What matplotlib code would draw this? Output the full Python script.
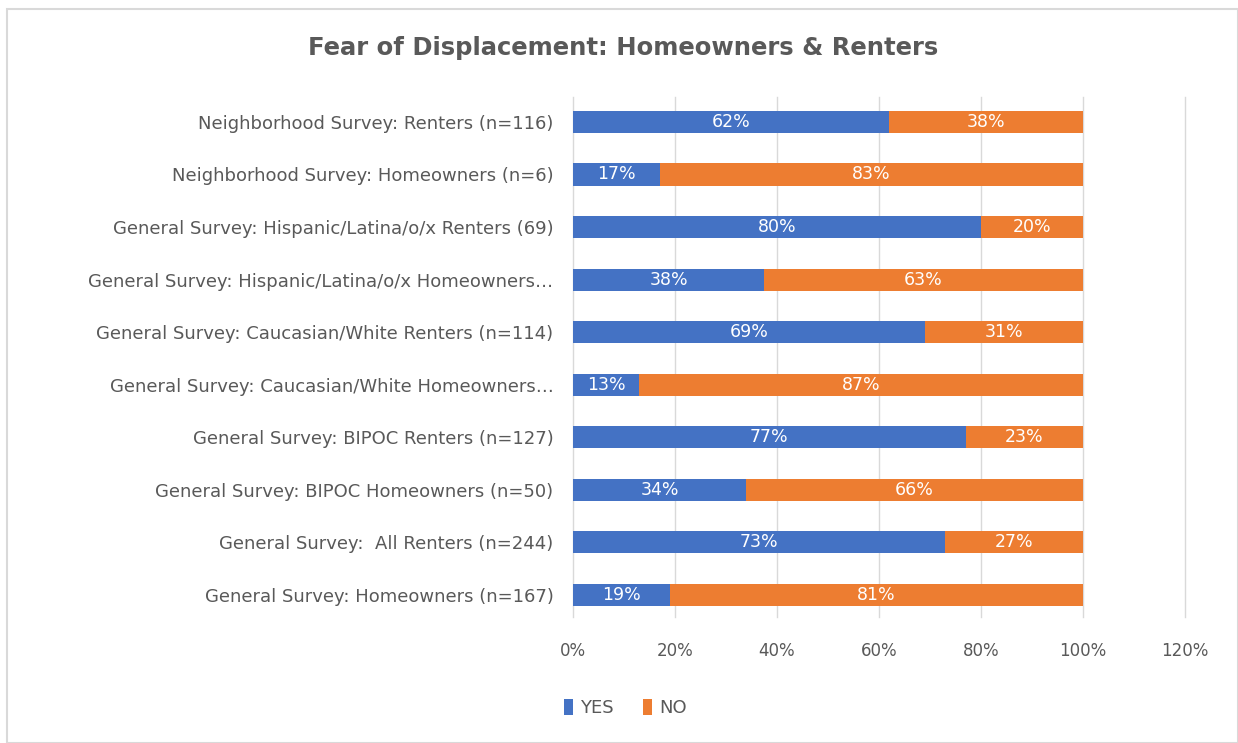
import matplotlib.pyplot as plt
import matplotlib.patches as patches
import numpy as np

# rows from bottom to top
categories = [
    "General Survey: Homeowners (n=167)",
    "General Survey:  All Renters (n=244)",
    "General Survey: BIPOC Homeowners (n=50)",
    "General Survey: BIPOC Renters (n=127)",
    "General Survey: Caucasian/White Homeowners\u2026",
    "General Survey: Caucasian/White Renters (n=114)",
    "General Survey: Hispanic/Latina/o/x Homeowners\u2026",
    "General Survey: Hispanic/Latina/o/x Renters (69)",
    "Neighborhood Survey: Homeowners (n=6)",
    "Neighborhood Survey: Renters (n=116)",
]
yes_vals = [19, 73, 34, 77, 13, 69, 37.5, 80, 17, 62]
no_vals = [81, 27, 66, 23, 87, 31, 62.5, 20, 83, 38]

blue = "#4472c4"
orange = "#ed7d31"
grey = "#595959"

def pct(v):
    return "%d%%" % int(v + 0.5)

fig = plt.figure(figsize=(12.38, 7.43), dpi=100)
fig.patches.append(patches.Rectangle((0.006, 0.0), 0.994, 0.988, transform=fig.transFigure,
                                     fill=False, edgecolor="#d9d9d9", linewidth=1.5))
ax = fig.add_axes([0.4628, 0.1696, 0.4944, 0.6999])

y = np.arange(len(categories))
yes = np.array(yes_vals) / 100.0
no = np.array(no_vals) / 100.0
b1 = ax.barh(y, yes, height=0.42, color=blue, label="YES", zorder=3)
b2 = ax.barh(y, no, left=yes, height=0.42, color=orange, label="NO", zorder=3)

for i in range(len(y)):
    ax.text(yes[i] / 2, y[i], pct(yes_vals[i]), ha="center", va="center",
            color="white", fontsize=12.5, zorder=4)
    ax.text(yes[i] + no[i] / 2, y[i], pct(no_vals[i]), ha="center", va="center",
            color="white", fontsize=12.5, zorder=4)

ax.set_xlim(0, 1.2)
ax.set_ylim(-0.42, 9.475)
ax.set_xticks(np.arange(0, 1.21, 0.2))
ax.set_xticklabels(["%d%%" % round(t * 100) for t in np.arange(0, 1.21, 0.2)])
ax.set_yticks(y)
ax.set_yticklabels(categories)
ax.tick_params(axis="both", length=0, colors=grey)
ax.tick_params(axis="x", pad=18, labelsize=12)
ax.tick_params(axis="y", pad=14, labelsize=13)
ax.grid(axis="x", color="#d9d9d9", linewidth=1, zorder=0)
for gl in ax.get_xgridlines():
    gl.set_clip_on(False)
for s in ax.spines.values():
    s.set_visible(False)

fig.text(0.503, 0.935, "Fear of Displacement: Homeowners & Renters", ha="center", va="center",
         fontsize=17.5, fontweight="bold", color=grey)

leg = fig.legend(handles=[b1, b2], loc="center", bbox_to_anchor=(0.505, 0.047), ncol=2,
                 frameon=False, fontsize=13, handlelength=0.5, handleheight=1.0,
                 handletextpad=0.4, columnspacing=1.6)
for t in leg.get_texts():
    t.set_color(grey)

fig.savefig("out.png", dpi=100)
